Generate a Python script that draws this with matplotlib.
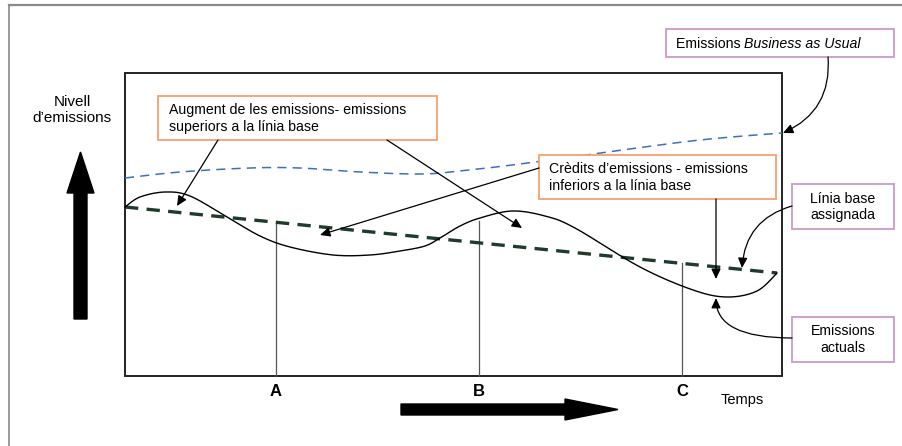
import numpy as np
import matplotlib
matplotlib.use("Agg")
import matplotlib.pyplot as plt
from matplotlib.patches import Rectangle

plt.rcParams['font.family'] = ['Liberation Sans', 'DejaVu Sans']

# ---- data (pixel-like units, y grows downward) ----
bau_x = [125, 180, 250, 300, 360, 420, 460, 520, 600, 700, 782]
bau_y = [178, 172, 168, 168, 172, 174, 171, 164, 153, 140, 133]

base_x = [125, 777]
base_y = [207, 273]

actual_x = [125, 140, 165, 190, 227, 260, 290, 333, 370, 400, 425, 440, 460,
            480, 512, 545, 575, 640, 693, 727, 757, 777]
actual_y = [207, 197, 192, 196, 217, 236, 247, 255, 255, 251, 246, 238, 226,
            218, 211, 216, 228, 267, 290, 297, 291, 273]

period_labels = ['A', 'B', 'C']
period_x = [276, 479, 682]
period_top = [221, 221, 263]

y_label = 'Nivell\nd\u2019emissions'
x_label = 'Temps'
box_aug = 'Augment de les emissions- emissions\nsuperiors a la l\u00ednia base'
box_cred = 'Cr\u00e8dits d\u2019emissions - emissions\ninferiors a la l\u00ednia base'
box_base = 'L\u00ednia base\nassignada'
box_act = 'Emissions\nactuals'
bau_plain = 'Emissions\u00a0'
bau_italic = 'Business as Usual'


def catmull(xs, ys, n=16):
    p = np.column_stack([xs, ys]).astype(float)
    p = np.vstack([p[0], p, p[-1]])
    out = []
    t = np.linspace(0, 1, n, endpoint=False)[:, None]
    for i in range(1, len(p) - 2):
        p0, p1, p2, p3 = p[i - 1], p[i], p[i + 1], p[i + 2]
        seg = 0.5 * ((2 * p1) + (-p0 + p2) * t + (2 * p0 - 5 * p1 + 4 * p2 - p3) * t ** 2
                     + (-p0 + 3 * p1 - 3 * p2 + p3) * t ** 3)
        out.append(seg)
    out.append(p[-2][None, :])
    out = np.vstack(out)
    return out[:, 0], out[:, 1]


fig = plt.figure(figsize=(9.02, 4.46), dpi=100)
ax = fig.add_axes([0, 0, 1, 1])
ax.set_xlim(0, 902)
ax.set_ylim(446, 0)
ax.axis('off')

# outer frame (top and left visible)
ax.plot([9, 902], [5, 5], color='#8a8a8a', lw=1.6)
ax.plot([9, 9], [5, 446], color='#8a8a8a', lw=1.2)

# main box
ax.add_patch(Rectangle((125, 73), 657, 303, fill=False, edgecolor='#222222', lw=1.4, zorder=2))

# period lines
for lab, px, pt in zip(period_labels, period_x, period_top):
    ax.plot([px, px], [pt, 376], color='#555555', lw=0.9, zorder=2)
    ax.text(px, 392, lab, ha='center', va='center', fontsize=12, fontweight='bold')

# BAU dashed
bx, by = catmull(bau_x, bau_y)
ax.plot(bx, by, color='#3d6fbf', lw=1.1, dashes=(6, 4), zorder=3)

# baseline dashed
ax.plot(base_x, base_y, color='#1e3b2b', lw=2.4, dashes=(4, 2.5), zorder=3)

# actual emissions
axx, ayy = catmull(actual_x, actual_y)
ax.plot(axx, ayy, color='black', lw=1.0, zorder=3)

# big arrows
ax.arrow(80.5, 319, 0, -167, width=13, head_width=27, head_length=41,
         length_includes_head=True, color='black', zorder=4)
ax.arrow(401, 409.5, 217, 0, width=11, head_width=21, head_length=53,
         length_includes_head=True, color='black', zorder=4)

ax.text(72, 110, y_label, ha='center', va='center', fontsize=11, linespacing=1.25)
ax.text(742, 400, x_label, ha='center', va='center', fontsize=10.5)


def box(x0, y0, x1, y1, color):
    ax.add_patch(Rectangle((x0, y0), x1 - x0, y1 - y0, facecolor='white',
                           edgecolor=color, lw=1.3, zorder=5))


orange = '#f5a070'
pink = '#c99ac9'
box(158, 96, 437, 140, orange)
ax.text(169, 118.5, box_aug, ha='left', va='center', fontsize=10.2, linespacing=1.2, zorder=6)
box(539, 155, 776, 199, orange)
ax.text(549, 177.5, box_cred, ha='left', va='center', fontsize=10.2, linespacing=1.2, zorder=6)
box(666, 29, 894, 57, pink)
t1 = ax.text(676, 44, bau_plain, ha='left', va='center', fontsize=10.2, zorder=6)
ax.annotate(bau_italic, xy=(1, 0.5), xycoords=t1, ha='left', va='center',
            fontsize=10.2, style='italic', zorder=6)
box(792, 184, 894, 229, pink)
ax.text(843, 207, box_base, ha='center', va='center', fontsize=10.2, linespacing=1.2, zorder=6)
box(792, 317, 894, 362, pink)
ax.text(843, 339.5, box_act, ha='center', va='center', fontsize=10.2, linespacing=1.2, zorder=6)


def arr(x0, y0, x1, y1, cs='arc3,rad=0'):
    ax.annotate('', xy=(x1, y1), xytext=(x0, y0),
                arrowprops=dict(arrowstyle='-|>,head_length=0.6,head_width=0.28',
                                mutation_scale=10, color='black', lw=0.9,
                                shrinkA=0, shrinkB=0, connectionstyle=cs),
                zorder=7)


arr(218, 140, 177, 206)
arr(387, 140, 522, 228)
arr(539, 168, 320, 235)
arr(716, 199, 716, 279)
arr(792, 206, 742, 268, 'arc3,rad=0.35')
arr(792, 338, 716, 298, 'angle3,angleA=0,angleB=90')
arr(828, 57, 783, 133, 'arc3,rad=-0.35')

fig.savefig('out.png', dpi=100)
